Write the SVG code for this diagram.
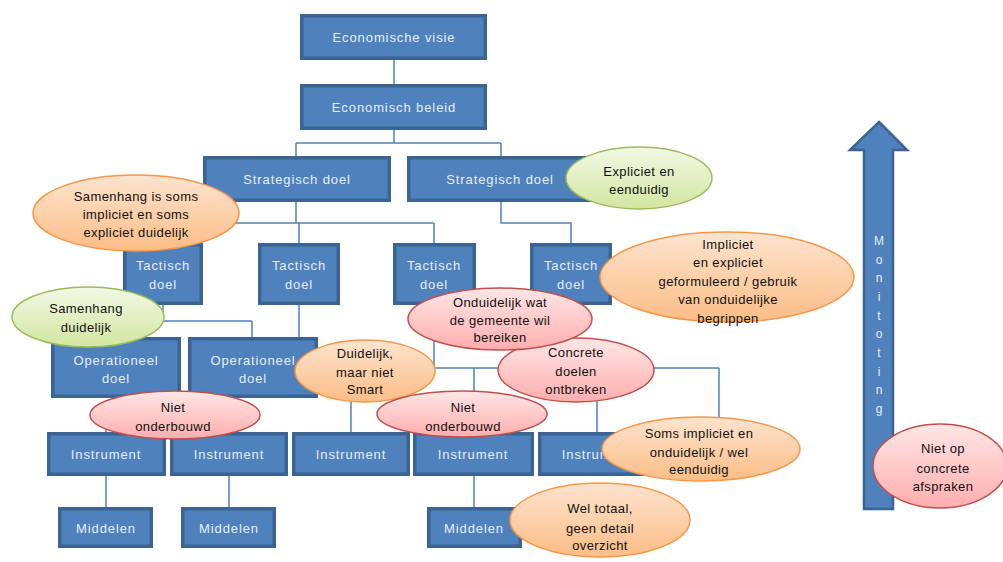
<svg xmlns="http://www.w3.org/2000/svg" width="1003" height="562" viewBox="0 0 1003 562">
<defs>
<linearGradient id="gO" x1="0" y1="0" x2="0" y2="1"><stop offset="0" stop-color="#fde4cf"/><stop offset="1" stop-color="#fbbd86"/></linearGradient>
<linearGradient id="gG" x1="0" y1="0" x2="0" y2="1"><stop offset="0" stop-color="#f3f8e6"/><stop offset="1" stop-color="#d2e6a0"/></linearGradient>
<linearGradient id="gR" x1="0" y1="0" x2="0" y2="1"><stop offset="0" stop-color="#ffe6e6"/><stop offset="1" stop-color="#ffaeae"/></linearGradient>
<style>
.box{fill:#4f81bd;stroke:#3b6493;stroke-width:3.5}
.bt{font-family:"Liberation Sans",Arial,sans-serif;font-size:13px;fill:#e6eef8;text-anchor:middle;letter-spacing:0.9px}
.et{font-family:"Liberation Sans",Arial,sans-serif;font-size:13px;fill:#111;text-anchor:middle;letter-spacing:0.4px}
.con{fill:none;stroke:#4f81bd;stroke-width:1.5}
.eo{fill:url(#gO);stroke:#f79646;stroke-width:1.5}
.eg{fill:url(#gG);stroke:#9bbb59;stroke-width:1.5}
.er{fill:url(#gR);stroke:#c0504d;stroke-width:1.5}
.mt{font-family:"Liberation Sans",Arial,sans-serif;font-size:12px;fill:#e6eef8;text-anchor:middle}
</style>
</defs>
<g id="connectors">
<path class="con" d="M394 60V84"/>
<path class="con" d="M394 130V143M296 143H501M296 143V156M501 143V156"/>
<path class="con" d="M296 202V223M163 223H434M163 223V243M299 223V243M434 223V243"/>
<path class="con" d="M501 202V223H571V243"/>
<path class="con" d="M163 305V321M116 321H252M116 321V337M252 321V337"/>
<path class="con" d="M299 305V380H351V432"/>
<path class="con" d="M116 398V415M106 415H229M106 415V432M229 415V432"/>
<path class="con" d="M434 305V368M435 368H719M474 368V432M597 368V432M719 368V432"/>
<path class="con" d="M571 305V330"/>
<path class="con" d="M106 476V507M229 476V507M474 476V507"/>
</g>
<g id="n-visie"><rect class="box" x="301.75" y="15.75" width="183.5" height="42.5"/><text class="bt" x="394" y="42">Economische visie</text></g>
<g id="n-beleid"><rect class="box" x="301.75" y="85.75" width="183.5" height="42.5"/><text class="bt" x="394" y="112">Economisch beleid</text></g>
<g id="n-strat1"><rect class="box" x="204.75" y="157.75" width="184.5" height="42.5"/><text class="bt" x="297" y="184">Strategisch doel</text></g>
<g id="n-strat2"><rect class="box" x="408.75" y="157.75" width="184.5" height="42.5"/><text class="bt" x="500" y="184">Strategisch doel</text></g>
<g id="n-t1"><rect class="box" x="124.75" y="244.75" width="76.5" height="58.5"/><text class="bt" x="163" y="270">Tactisch</text><text class="bt" x="163" y="289">doel</text></g>
<g id="n-t2"><rect class="box" x="259.75" y="244.75" width="78.5" height="58.5"/><text class="bt" x="299" y="270">Tactisch</text><text class="bt" x="299" y="289">doel</text></g>
<g id="n-t3"><rect class="box" x="394.75" y="244.75" width="79.5" height="58.5"/><text class="bt" x="434" y="270">Tactisch</text><text class="bt" x="434" y="289">doel</text></g>
<g id="n-t4"><rect class="box" x="531.75" y="244.75" width="78.5" height="58.5"/><text class="bt" x="571" y="270">Tactisch</text><text class="bt" x="571" y="289">doel</text></g>
<g id="n-op1"><rect class="box" x="52.75" y="338.75" width="126.5" height="57.5"/><text class="bt" x="116" y="365">Operationeel</text><text class="bt" x="116" y="383">doel</text></g>
<g id="n-op2"><rect class="box" x="189.75" y="338.75" width="126.5" height="57.5"/><text class="bt" x="253" y="365">Operationeel</text><text class="bt" x="253" y="383">doel</text></g>
<g id="n-i1"><rect class="box" x="48.75" y="433.75" width="115.5" height="40.5"/><text class="bt" x="106" y="459">Instrument</text></g>
<g id="n-i2"><rect class="box" x="171.75" y="433.75" width="114.5" height="40.5"/><text class="bt" x="229" y="459">Instrument</text></g>
<g id="n-i3"><rect class="box" x="293.75" y="433.75" width="114.5" height="40.5"/><text class="bt" x="351" y="459">Instrument</text></g>
<g id="n-i4"><rect class="box" x="414.75" y="433.75" width="117.5" height="40.5"/><text class="bt" x="473" y="459">Instrument</text></g>
<g id="n-i5"><rect class="box" x="539.75" y="433.75" width="116.5" height="40.5"/><text class="bt" x="597" y="459">Instrument</text></g>
<g id="n-m1"><rect class="box" x="59.75" y="508.75" width="91.5" height="37.5"/><text class="bt" x="106" y="533">Middelen</text></g>
<g id="n-m2"><rect class="box" x="182.75" y="508.75" width="91.5" height="37.5"/><text class="bt" x="229" y="533">Middelen</text></g>
<g id="n-m3"><rect class="box" x="428.75" y="508.75" width="91.5" height="37.5"/><text class="bt" x="474" y="533">Middelen</text></g>
<g id="n-monitoring">
<polygon points="879,122 907,150 893,150 893,509 864,509 864,150 850,150" fill="#4f81bd" stroke="#3b6493" stroke-width="2.5" stroke-linejoin="miter"/>
<text class="mt" x="879" y="245">M</text><text class="mt" x="879" y="264">o</text><text class="mt" x="879" y="282">n</text><text class="mt" x="879" y="301">i</text><text class="mt" x="879" y="320">t</text><text class="mt" x="879" y="338">o</text><text class="mt" x="879" y="357">t</text><text class="mt" x="879" y="376">i</text><text class="mt" x="879" y="394">n</text><text class="mt" x="879" y="413">g</text>
</g>
<g id="c-samenhang1"><ellipse class="eo" cx="136" cy="213" rx="103" ry="38"/><text class="et" x="136" y="201">Samenhang is soms</text><text class="et" x="136" y="219">impliciet en soms</text><text class="et" x="136" y="237">expliciet duidelijk</text></g>
<g id="c-expliciet"><ellipse class="eg" cx="639" cy="178" rx="73" ry="31"/><text class="et" x="639" y="176">Expliciet en</text><text class="et" x="639" y="194">eenduidig</text></g>
<g id="c-samenhang2"><ellipse class="eg" cx="88" cy="317" rx="76" ry="30"/><text class="et" x="86" y="313">Samenhang</text><text class="et" x="86" y="332">duidelijk</text></g>
<g id="c-impliciet"><ellipse class="eo" cx="727" cy="277" rx="127" ry="45"/><text class="et" x="728" y="249">Impliciet</text><text class="et" x="728" y="267">en expliciet</text><text class="et" x="728" y="286">geformuleerd / gebruik</text><text class="et" x="728" y="304">van onduidelijke</text><text class="et" x="728" y="323">begrippen</text></g>
<g id="c-concrete"><ellipse class="er" cx="576" cy="370" rx="78" ry="32"/><text class="et" x="576" y="357">Concrete</text><text class="et" x="576" y="376">doelen</text><text class="et" x="576" y="394">ontbreken</text></g>
<g id="c-onduidelijk"><ellipse class="er" cx="500" cy="319" rx="92" ry="31"/><text class="et" x="500" y="307">Onduidelijk wat</text><text class="et" x="500" y="325">de gemeente wil</text><text class="et" x="500" y="342">bereiken</text></g>
<g id="c-duidelijk"><ellipse class="eo" cx="365" cy="371" rx="70" ry="31"/><text class="et" x="365" y="358">Duidelijk,</text><text class="et" x="365" y="377">maar niet</text><text class="et" x="365" y="394">Smart</text></g>
<g id="c-niet2"><ellipse class="er" cx="462" cy="414" rx="85" ry="23"/><text class="et" x="463" y="412">Niet</text><text class="et" x="463" y="431">onderbouwd</text></g>
<g id="c-niet1"><ellipse class="er" cx="175" cy="415" rx="85" ry="24"/><text class="et" x="173" y="412">Niet</text><text class="et" x="173" y="431">onderbouwd</text></g>
<g id="c-soms"><ellipse class="eo" cx="701" cy="449" rx="99" ry="32"/><text class="et" x="699" y="438">Soms impliciet en</text><text class="et" x="699" y="457">onduidelijk / wel</text><text class="et" x="699" y="474">eenduidig</text></g>
<g id="c-weltotaal"><ellipse class="eo" cx="600" cy="520" rx="90" ry="37"/><text class="et" x="600" y="513">Wel totaal,</text><text class="et" x="600" y="533">geen detail</text><text class="et" x="600" y="550">overzicht</text></g>
<g id="c-nietop"><ellipse class="er" cx="940" cy="466" rx="67" ry="42"/><text class="et" x="943" y="453">Niet op</text><text class="et" x="943" y="473">concrete</text><text class="et" x="943" y="491">afspraken</text></g>
</svg>
